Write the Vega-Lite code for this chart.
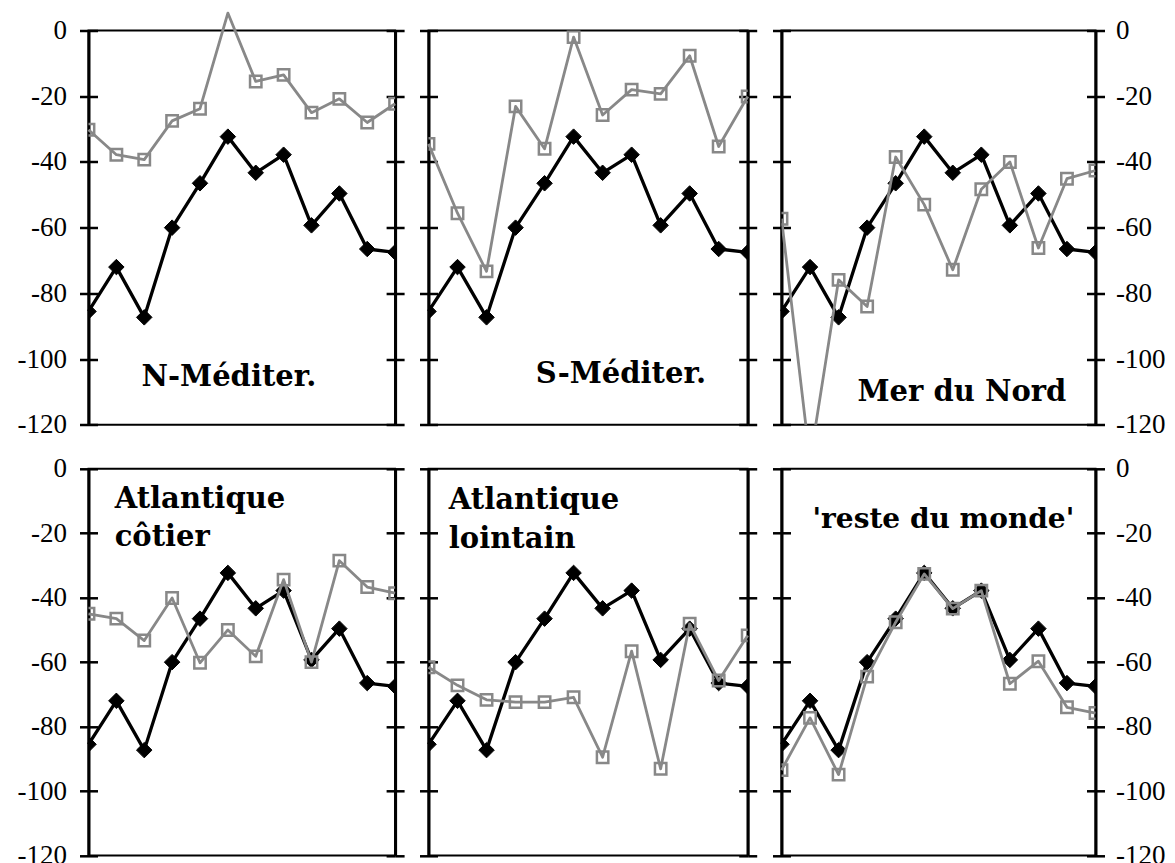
{
  "$schema": "https://vega.github.io/schema/vega-lite/v6.json",
  "padding": {"left": 15.5, "top": 10.5, "right": 5, "bottom": 5},
  "background": "white",
  "datasets": {
    "black": [
      {"i": 0, "value": -85.5}, {"i": 1, "value": -72}, {"i": 2, "value": -87.3}, {"i": 3, "value": -60},
      {"i": 4, "value": -46.5}, {"i": 5, "value": -32.3}, {"i": 6, "value": -43.3}, {"i": 7, "value": -37.8},
      {"i": 8, "value": -59.3}, {"i": 9, "value": -49.6}, {"i": 10, "value": -66.5}, {"i": 11, "value": -67.5}
    ],
    "gray": [
      {"panel": "N", "i": 0, "value": -30.2}, {"panel": "N", "i": 1, "value": -37.8}, {"panel": "N", "i": 2, "value": -39.3}, {"panel": "N", "i": 3, "value": -27.5},
      {"panel": "N", "i": 4, "value": -23.8}, {"panel": "N", "i": 5, "value": 5.3}, {"panel": "N", "i": 6, "value": -15.5}, {"panel": "N", "i": 7, "value": -13.5},
      {"panel": "N", "i": 8, "value": -25}, {"panel": "N", "i": 9, "value": -20.8}, {"panel": "N", "i": 10, "value": -28}, {"panel": "N", "i": 11, "value": -22.3},
      {"panel": "S", "i": 0, "value": -34.5}, {"panel": "S", "i": 1, "value": -55.6}, {"panel": "S", "i": 2, "value": -73.3}, {"panel": "S", "i": 3, "value": -23.1},
      {"panel": "S", "i": 4, "value": -36}, {"panel": "S", "i": 5, "value": -2}, {"panel": "S", "i": 6, "value": -25.7}, {"panel": "S", "i": 7, "value": -18},
      {"panel": "S", "i": 8, "value": -19.3}, {"panel": "S", "i": 9, "value": -7.7}, {"panel": "S", "i": 10, "value": -35.3}, {"panel": "S", "i": 11, "value": -20.1},
      {"panel": "MN", "i": 0, "value": -57.3}, {"panel": "MN", "i": 1, "value": -131}, {"panel": "MN", "i": 2, "value": -75.9}, {"panel": "MN", "i": 3, "value": -84},
      {"panel": "MN", "i": 4, "value": -38.5}, {"panel": "MN", "i": 5, "value": -53}, {"panel": "MN", "i": 6, "value": -72.8}, {"panel": "MN", "i": 7, "value": -48.3},
      {"panel": "MN", "i": 8, "value": -40}, {"panel": "MN", "i": 9, "value": -66.2}, {"panel": "MN", "i": 10, "value": -45.1}, {"panel": "MN", "i": 11, "value": -42.6},
      {"panel": "AC", "i": 0, "value": -45}, {"panel": "AC", "i": 1, "value": -46.5}, {"panel": "AC", "i": 2, "value": -53.3}, {"panel": "AC", "i": 3, "value": -40.1},
      {"panel": "AC", "i": 4, "value": -60.2}, {"panel": "AC", "i": 5, "value": -50}, {"panel": "AC", "i": 6, "value": -58.2}, {"panel": "AC", "i": 7, "value": -34.4},
      {"panel": "AC", "i": 8, "value": -60}, {"panel": "AC", "i": 9, "value": -28.5}, {"panel": "AC", "i": 10, "value": -36.7}, {"panel": "AC", "i": 11, "value": -38.6},
      {"panel": "AL", "i": 0, "value": -61.6}, {"panel": "AL", "i": 1, "value": -67.2}, {"panel": "AL", "i": 2, "value": -71.7}, {"panel": "AL", "i": 3, "value": -72.4},
      {"panel": "AL", "i": 4, "value": -72.4}, {"panel": "AL", "i": 5, "value": -70.9}, {"panel": "AL", "i": 6, "value": -89.5}, {"panel": "AL", "i": 7, "value": -56.6},
      {"panel": "AL", "i": 8, "value": -93.1}, {"panel": "AL", "i": 9, "value": -48.1}, {"panel": "AL", "i": 10, "value": -65.7}, {"panel": "AL", "i": 11, "value": -51.7},
      {"panel": "RM", "i": 0, "value": -93.5}, {"panel": "RM", "i": 1, "value": -77.3}, {"panel": "RM", "i": 2, "value": -94.9}, {"panel": "RM", "i": 3, "value": -64.5},
      {"panel": "RM", "i": 4, "value": -47.6}, {"panel": "RM", "i": 5, "value": -32.6}, {"panel": "RM", "i": 6, "value": -43.4}, {"panel": "RM", "i": 7, "value": -37.8},
      {"panel": "RM", "i": 8, "value": -66.7}, {"panel": "RM", "i": 9, "value": -59.7}, {"panel": "RM", "i": 10, "value": -74}, {"panel": "RM", "i": 11, "value": -75.8}
    ]
  },
  "columns": 3,
  "spacing": {"row": 43.3, "column": 33},
  "bounds": "flush",
  "align": "each",
  "concat": [
    {
      "width": 306.6, "height": 394.3,
      "layer": [
        {"data": {"name": "black"}, "mark": {"type": "line", "color": "black", "strokeWidth": 3.3, "strokeJoin": "round"},
         "encoding": {"x": {"field": "i", "type": "quantitative", "scale": {"domain": [0, 11], "nice": false, "zero": false}, "axis": {"title": null}},
                      "y": {"field": "value", "type": "quantitative", "scale": {"domain": [-120, 0], "nice": false, "zero": false}, "axis": {"orient": "left", "title": null, "values": [0, -20, -40, -60, -80, -100, -120], "labels": true, "labelPadding": 13, "labelExpr": "'' + datum.value"}}}},
        {"data": {"name": "black"}, "mark": {"type": "point", "shape": "diamond", "filled": true, "color": "black", "stroke": "black", "strokeWidth": 1, "size": 240, "opacity": 1, "clip": true},
         "encoding": {"x": {"field": "i", "type": "quantitative", "axis": {"title": null}},
                      "y": {"field": "value", "type": "quantitative", "axis": {"orient": "left", "offset": -9, "domain": false, "labels": false, "title": null, "values": [0, -20, -40, -60, -80, -100, -120]}}}},
        {"data": {"name": "gray"}, "transform": [{"filter": "datum.panel === 'N'"}], "mark": {"type": "line", "color": "#888888", "strokeWidth": 2.8, "strokeJoin": "round"},
         "encoding": {"x": {"field": "i", "type": "quantitative", "axis": {"title": null}},
                      "y": {"field": "value", "type": "quantitative", "axis": {"orient": "right", "title": null, "labels": false, "values": [0, -20, -40, -60, -80, -100, -120]}}}},
        {"data": {"name": "gray"}, "transform": [{"filter": "datum.panel === 'N'"}], "mark": {"type": "point", "shape": "square", "filled": false, "color": "#888888", "size": 130, "strokeWidth": 2.5, "opacity": 1, "clip": true},
         "encoding": {"x": {"field": "i", "type": "quantitative", "axis": {"title": null}},
                      "y": {"field": "value", "type": "quantitative", "axis": {"orient": "right", "offset": -9, "domain": false, "labels": false, "title": null, "values": [0, -20, -40, -60, -80, -100, -120]}}}},
        {"data": {"values": [{}]}, "mark": {"type": "text", "text": "N-Méditer.", "font": "DejaVu Serif", "fontWeight": "bold", "fontSize": 29, "align": "center", "baseline": "alphabetic", "color": "black"},
         "encoding": {"x": {"datum": 5.04, "type": "quantitative", "axis": null}, "y": {"datum": -108.3, "type": "quantitative", "axis": null}}}
      ],
      "resolve": {"axis": {"y": "independent"}}
    },
    {
      "width": 319.2, "height": 394.3,
      "layer": [
        {"data": {"name": "black"}, "mark": {"type": "line", "color": "black", "strokeWidth": 3.3, "strokeJoin": "round"},
         "encoding": {"x": {"field": "i", "type": "quantitative", "scale": {"domain": [0, 11], "nice": false, "zero": false}, "axis": {"title": null}},
                      "y": {"field": "value", "type": "quantitative", "scale": {"domain": [-120, 0], "nice": false, "zero": false}, "axis": {"orient": "left", "title": null, "values": [0, -20, -40, -60, -80, -100, -120], "labels": false}}}},
        {"data": {"name": "black"}, "mark": {"type": "point", "shape": "diamond", "filled": true, "color": "black", "stroke": "black", "strokeWidth": 1, "size": 240, "opacity": 1, "clip": true},
         "encoding": {"x": {"field": "i", "type": "quantitative", "axis": {"title": null}},
                      "y": {"field": "value", "type": "quantitative", "axis": {"orient": "left", "offset": -9, "domain": false, "labels": false, "title": null, "values": [0, -20, -40, -60, -80, -100, -120]}}}},
        {"data": {"name": "gray"}, "transform": [{"filter": "datum.panel === 'S'"}], "mark": {"type": "line", "color": "#888888", "strokeWidth": 2.8, "strokeJoin": "round"},
         "encoding": {"x": {"field": "i", "type": "quantitative", "axis": {"title": null}},
                      "y": {"field": "value", "type": "quantitative", "axis": {"orient": "right", "title": null, "labels": false, "values": [0, -20, -40, -60, -80, -100, -120]}}}},
        {"data": {"name": "gray"}, "transform": [{"filter": "datum.panel === 'S'"}], "mark": {"type": "point", "shape": "square", "filled": false, "color": "#888888", "size": 130, "strokeWidth": 2.5, "opacity": 1, "clip": true},
         "encoding": {"x": {"field": "i", "type": "quantitative", "axis": {"title": null}},
                      "y": {"field": "value", "type": "quantitative", "axis": {"orient": "right", "offset": -9, "domain": false, "labels": false, "title": null, "values": [0, -20, -40, -60, -80, -100, -120]}}}},
        {"data": {"values": [{}]}, "mark": {"type": "text", "text": "S-Méditer.", "font": "DejaVu Serif", "fontWeight": "bold", "fontSize": 29, "align": "center", "baseline": "alphabetic", "color": "black"},
         "encoding": {"x": {"datum": 6.63, "type": "quantitative", "axis": null}, "y": {"datum": -107.3, "type": "quantitative", "axis": null}}}
      ],
      "resolve": {"axis": {"y": "independent"}}
    },
    {
      "width": 314, "height": 394.3,
      "layer": [
        {"data": {"name": "black"}, "mark": {"type": "line", "color": "black", "strokeWidth": 3.3, "strokeJoin": "round"},
         "encoding": {"x": {"field": "i", "type": "quantitative", "scale": {"domain": [0, 11], "nice": false, "zero": false}, "axis": {"title": null}},
                      "y": {"field": "value", "type": "quantitative", "scale": {"domain": [-120, 0], "nice": false, "zero": false}, "axis": {"orient": "left", "title": null, "values": [0, -20, -40, -60, -80, -100, -120], "labels": false}}}},
        {"data": {"name": "black"}, "mark": {"type": "point", "shape": "diamond", "filled": true, "color": "black", "stroke": "black", "strokeWidth": 1, "size": 240, "opacity": 1, "clip": true},
         "encoding": {"x": {"field": "i", "type": "quantitative", "axis": {"title": null}},
                      "y": {"field": "value", "type": "quantitative", "axis": {"orient": "left", "offset": -9, "domain": false, "labels": false, "title": null, "values": [0, -20, -40, -60, -80, -100, -120]}}}},
        {"data": {"name": "gray"}, "transform": [{"filter": "datum.panel === 'MN'"}], "mark": {"type": "line", "color": "#888888", "strokeWidth": 2.8, "strokeJoin": "round", "clip": true},
         "encoding": {"x": {"field": "i", "type": "quantitative", "axis": {"title": null}},
                      "y": {"field": "value", "type": "quantitative", "axis": {"orient": "right", "title": null, "labels": true, "labelPadding": 11, "labelExpr": "'' + datum.value", "values": [0, -20, -40, -60, -80, -100, -120]}}}},
        {"data": {"name": "gray"}, "transform": [{"filter": "datum.panel === 'MN'"}], "mark": {"type": "point", "shape": "square", "filled": false, "color": "#888888", "size": 130, "strokeWidth": 2.5, "opacity": 1, "clip": true},
         "encoding": {"x": {"field": "i", "type": "quantitative", "axis": {"title": null}},
                      "y": {"field": "value", "type": "quantitative", "axis": {"orient": "right", "offset": -9, "domain": false, "labels": false, "title": null, "values": [0, -20, -40, -60, -80, -100, -120]}}}},
        {"data": {"values": [{}]}, "mark": {"type": "text", "text": "Mer du Nord", "font": "DejaVu Serif", "fontWeight": "bold", "fontSize": 29, "align": "center", "baseline": "alphabetic", "color": "black"},
         "encoding": {"x": {"datum": 6.32, "type": "quantitative", "axis": null}, "y": {"datum": -112.9, "type": "quantitative", "axis": null}}}
      ],
      "resolve": {"axis": {"y": "independent"}}
    },
    {
      "width": 306.6, "height": 386.7,
      "layer": [
        {"data": {"name": "black"}, "mark": {"type": "line", "color": "black", "strokeWidth": 3.3, "strokeJoin": "round"},
         "encoding": {"x": {"field": "i", "type": "quantitative", "scale": {"domain": [0, 11], "nice": false, "zero": false}, "axis": {"title": null}},
                      "y": {"field": "value", "type": "quantitative", "scale": {"domain": [-120, 0], "nice": false, "zero": false}, "axis": {"orient": "left", "title": null, "values": [0, -20, -40, -60, -80, -100, -120], "labels": true, "labelPadding": 13, "labelExpr": "'' + datum.value"}}}},
        {"data": {"name": "black"}, "mark": {"type": "point", "shape": "diamond", "filled": true, "color": "black", "stroke": "black", "strokeWidth": 1, "size": 240, "opacity": 1, "clip": true},
         "encoding": {"x": {"field": "i", "type": "quantitative", "axis": {"title": null}},
                      "y": {"field": "value", "type": "quantitative", "axis": {"orient": "left", "offset": -9, "domain": false, "labels": false, "title": null, "values": [0, -20, -40, -60, -80, -100, -120]}}}},
        {"data": {"name": "gray"}, "transform": [{"filter": "datum.panel === 'AC'"}], "mark": {"type": "line", "color": "#888888", "strokeWidth": 2.8, "strokeJoin": "round"},
         "encoding": {"x": {"field": "i", "type": "quantitative", "axis": {"title": null}},
                      "y": {"field": "value", "type": "quantitative", "axis": {"orient": "right", "title": null, "labels": false, "values": [0, -20, -40, -60, -80, -100, -120]}}}},
        {"data": {"name": "gray"}, "transform": [{"filter": "datum.panel === 'AC'"}], "mark": {"type": "point", "shape": "square", "filled": false, "color": "#888888", "size": 130, "strokeWidth": 2.5, "opacity": 1, "clip": true},
         "encoding": {"x": {"field": "i", "type": "quantitative", "axis": {"title": null}},
                      "y": {"field": "value", "type": "quantitative", "axis": {"orient": "right", "offset": -9, "domain": false, "labels": false, "title": null, "values": [0, -20, -40, -60, -80, -100, -120]}}}},
        {"data": {"values": [{}]}, "mark": {"type": "text", "text": ["Atlantique", "côtier"], "lineHeight": 38.7, "font": "DejaVu Serif", "fontWeight": "bold", "fontSize": 29, "align": "left", "baseline": "alphabetic", "color": "black"},
         "encoding": {"x": {"datum": 0.94, "type": "quantitative", "axis": null}, "y": {"datum": -12.1, "type": "quantitative", "axis": null}}}
      ],
      "resolve": {"axis": {"y": "independent"}}
    },
    {
      "width": 319.2, "height": 386.7,
      "layer": [
        {"data": {"name": "black"}, "mark": {"type": "line", "color": "black", "strokeWidth": 3.3, "strokeJoin": "round"},
         "encoding": {"x": {"field": "i", "type": "quantitative", "scale": {"domain": [0, 11], "nice": false, "zero": false}, "axis": {"title": null}},
                      "y": {"field": "value", "type": "quantitative", "scale": {"domain": [-120, 0], "nice": false, "zero": false}, "axis": {"orient": "left", "title": null, "values": [0, -20, -40, -60, -80, -100, -120], "labels": false}}}},
        {"data": {"name": "black"}, "mark": {"type": "point", "shape": "diamond", "filled": true, "color": "black", "stroke": "black", "strokeWidth": 1, "size": 240, "opacity": 1, "clip": true},
         "encoding": {"x": {"field": "i", "type": "quantitative", "axis": {"title": null}},
                      "y": {"field": "value", "type": "quantitative", "axis": {"orient": "left", "offset": -9, "domain": false, "labels": false, "title": null, "values": [0, -20, -40, -60, -80, -100, -120]}}}},
        {"data": {"name": "gray"}, "transform": [{"filter": "datum.panel === 'AL'"}], "mark": {"type": "line", "color": "#888888", "strokeWidth": 2.8, "strokeJoin": "round"},
         "encoding": {"x": {"field": "i", "type": "quantitative", "axis": {"title": null}},
                      "y": {"field": "value", "type": "quantitative", "axis": {"orient": "right", "title": null, "labels": false, "values": [0, -20, -40, -60, -80, -100, -120]}}}},
        {"data": {"name": "gray"}, "transform": [{"filter": "datum.panel === 'AL'"}], "mark": {"type": "point", "shape": "square", "filled": false, "color": "#888888", "size": 130, "strokeWidth": 2.5, "opacity": 1, "clip": true},
         "encoding": {"x": {"field": "i", "type": "quantitative", "axis": {"title": null}},
                      "y": {"field": "value", "type": "quantitative", "axis": {"orient": "right", "offset": -9, "domain": false, "labels": false, "title": null, "values": [0, -20, -40, -60, -80, -100, -120]}}}},
        {"data": {"values": [{}]}, "mark": {"type": "text", "text": ["Atlantique", "lointain"], "lineHeight": 39, "font": "DejaVu Serif", "fontWeight": "bold", "fontSize": 29, "align": "left", "baseline": "alphabetic", "color": "black"},
         "encoding": {"x": {"datum": 0.7, "type": "quantitative", "axis": null}, "y": {"datum": -12.4, "type": "quantitative", "axis": null}}}
      ],
      "resolve": {"axis": {"y": "independent"}}
    },
    {
      "width": 314, "height": 386.7,
      "layer": [
        {"data": {"name": "black"}, "mark": {"type": "line", "color": "black", "strokeWidth": 3.3, "strokeJoin": "round"},
         "encoding": {"x": {"field": "i", "type": "quantitative", "scale": {"domain": [0, 11], "nice": false, "zero": false}, "axis": {"title": null}},
                      "y": {"field": "value", "type": "quantitative", "scale": {"domain": [-120, 0], "nice": false, "zero": false}, "axis": {"orient": "left", "title": null, "values": [0, -20, -40, -60, -80, -100, -120], "labels": false}}}},
        {"data": {"name": "black"}, "mark": {"type": "point", "shape": "diamond", "filled": true, "color": "black", "stroke": "black", "strokeWidth": 1, "size": 240, "opacity": 1, "clip": true},
         "encoding": {"x": {"field": "i", "type": "quantitative", "axis": {"title": null}},
                      "y": {"field": "value", "type": "quantitative", "axis": {"orient": "left", "offset": -9, "domain": false, "labels": false, "title": null, "values": [0, -20, -40, -60, -80, -100, -120]}}}},
        {"data": {"name": "gray"}, "transform": [{"filter": "datum.panel === 'RM'"}], "mark": {"type": "line", "color": "#888888", "strokeWidth": 2.8, "strokeJoin": "round"},
         "encoding": {"x": {"field": "i", "type": "quantitative", "axis": {"title": null}},
                      "y": {"field": "value", "type": "quantitative", "axis": {"orient": "right", "title": null, "labels": true, "labelPadding": 11, "labelExpr": "'' + datum.value", "values": [0, -20, -40, -60, -80, -100, -120]}}}},
        {"data": {"name": "gray"}, "transform": [{"filter": "datum.panel === 'RM'"}], "mark": {"type": "point", "shape": "square", "filled": false, "color": "#888888", "size": 130, "strokeWidth": 2.5, "opacity": 1, "clip": true},
         "encoding": {"x": {"field": "i", "type": "quantitative", "axis": {"title": null}},
                      "y": {"field": "value", "type": "quantitative", "axis": {"orient": "right", "offset": -9, "domain": false, "labels": false, "title": null, "values": [0, -20, -40, -60, -80, -100, -120]}}}},
        {"data": {"values": [{}]}, "mark": {"type": "text", "text": "'reste du monde'", "font": "DejaVu Serif", "fontWeight": "bold", "fontSize": 28, "align": "center", "baseline": "alphabetic", "color": "black"},
         "encoding": {"x": {"datum": 5.67, "type": "quantitative", "axis": null}, "y": {"datum": -18.3, "type": "quantitative", "axis": null}}}
      ],
      "resolve": {"axis": {"y": "independent"}}
    }
  ],
  "config": {
    "view": {"stroke": "black", "strokeWidth": 2},
    "axis": {"grid": false, "tickColor": "black", "tickWidth": 2.5, "tickSize": 9, "domainColor": "black", "domainWidth": 3, "labelFont": "Liberation Serif", "labelFontSize": 27, "labelColor": "black", "labelFlush": false, "labelOverlap": false},
    "axisX": {"ticks": false, "labels": false, "domain": true},
    "font": "Liberation Serif"
  }
}
